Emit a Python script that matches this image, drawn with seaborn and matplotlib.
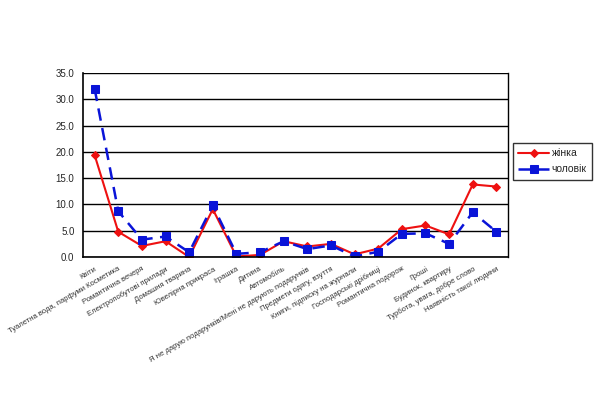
import matplotlib
matplotlib.use("Agg")
import matplotlib.pyplot as plt
import seaborn as sns
import pandas as pd
import numpy as np
from matplotlib.ticker import FixedLocator, MultipleLocator, FormatStrFormatter

categories = [
    "Квіти", "Туалетна вода, парфуми Косметика", "Романтична вечеря",
    "Електропобутові прилади", "Домашня тварина", "Ювелірна прикраса",
    "Іграшка", "Дитина", "Автомобіль",
    "Я не дарую подарунків/Мені не дарують подарунків",
    "Предмети одягу, взуття", "Книги, підписку на журнали",
    "Господарські дрібниці", "Романтична подорож", "Гроші",
    "Будинок, квартиру", "Турбота, увага, добре слово",
    "Наявність такої людини",
]
zhinka = [19.4, 4.8, 2.1, 3.0, 0.0, 9.1, 0.1, 0.4, 3.0, 2.0, 2.5, 0.5, 1.6, 5.3, 6.0, 4.3, 13.8, 13.4]
cholovik = [32.0, 8.7, 3.3, 3.9, 0.9, 9.8, 0.6, 0.9, 3.0, 1.5, 2.2, 0.1, 1.0, 4.4, 4.5, 2.5, 8.5, 4.8]

sns.set_style("white")
plt.rcParams['font.family'] = ['Liberation Sans', 'DejaVu Sans']

df = pd.DataFrame({"x": np.arange(len(categories)), "жінка": zhinka, "чоловік": cholovik})

fig = plt.figure(figsize=(6, 4), dpi=100)
ax = fig.add_axes([0.138, 0.3575, 0.709, 0.46])

sns.lineplot(data=df, x="x", y="жінка", ax=ax, color="#ee1111", lw=1.5,
             marker="D", markersize=3.8, markeredgecolor="#ee1111", label="жінка")
sns.lineplot(data=df, x="x", y="чоловік", ax=ax, color="#0a14d8", lw=1.8,
             marker="s", markersize=5.2, markeredgecolor="#0a14d8",
             dashes=(5, 3), label="чоловік")

ax.set_xlim(-0.5, len(categories) - 0.5)
ax.set_ylim(0, 35)
ax.yaxis.set_major_locator(MultipleLocator(5))
ax.yaxis.set_major_formatter(FormatStrFormatter("%.1f"))
ax.grid(axis="y", color="black", lw=1)
ax.set_axisbelow(True)
ax.set_xlabel("")
ax.set_ylabel("")

ax.set_xticks(np.arange(len(categories)))
ax.set_xticklabels(categories, rotation=30, ha="right", rotation_mode="anchor",
                   fontsize=5.5, color="#333333")
ax.tick_params(axis="x", length=0, pad=6)
ax.xaxis.set_minor_locator(FixedLocator(np.arange(-0.5, len(categories), 1)))
ax.tick_params(axis="x", which="minor", length=4, width=1, color="black", direction="out")
ax.tick_params(axis="y", length=4, width=1, color="black", direction="out", labelsize=7, pad=2)

for s in ["left", "bottom", "right", "top"]:
    ax.spines[s].set_visible(True)
    ax.spines[s].set_color("black")
ax.spines["left"].set_linewidth(1.2)
ax.spines["bottom"].set_linewidth(1.2)
ax.spines["right"].set_linewidth(1)
ax.spines["top"].set_visible(False)

leg = ax.legend(loc="upper left", bbox_to_anchor=(0.855, 0.6425),
                bbox_transform=fig.transFigure, frameon=True, fancybox=False,
                fontsize=7.5, handlelength=3, borderpad=0.5, labelspacing=0.6,
                handletextpad=0.2, borderaxespad=0)
leg.get_frame().set_edgecolor("black")
leg.get_frame().set_linewidth(1)

fig.savefig("out.png", dpi=100)
